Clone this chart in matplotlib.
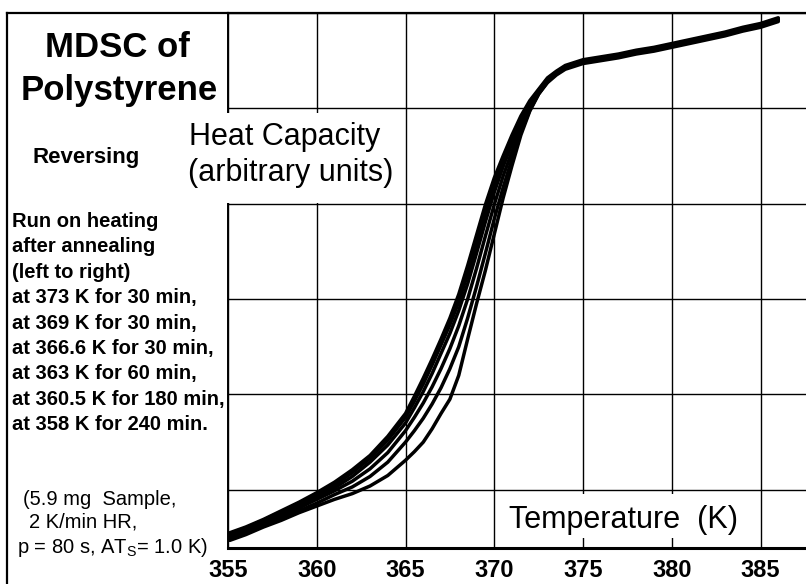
"""MDSC of polystyrene: reversing heat capacity after annealing."""
import matplotlib
matplotlib.use("Agg")
import matplotlib.pyplot as plt
from matplotlib.lines import Line2D
from matplotlib.patches import Rectangle

plt.rcParams["font.family"] = ["Liberation Sans", "DejaVu Sans"]

# temperature grid (K) shared by all six runs
temps = [355.1, 356, 357, 358, 359, 360, 361, 362, 363, 364, 365,
         365.5, 366, 366.5, 367, 367.5, 368, 368.5, 369, 369.5, 370,
         370.5, 371, 371.5, 372, 372.5, 373, 373.5, 374, 375, 376,
         377, 378, 379, 380, 381, 382, 383, 384, 385, 386]

# heat capacity, arbitrary units, one list per annealing run
cp_373 = [0.55, 0.61, 0.69, 0.78, 0.87, 0.97, 1.08, 1.21, 1.36, 1.56, 1.80,
          1.98, 2.17, 2.37, 2.58, 2.80, 3.05, 3.35, 3.67, 3.99, 4.27,
          4.50, 4.72, 4.92, 5.08, 5.20, 5.32, 5.39, 5.45, 5.51, 5.54,
          5.57, 5.61, 5.64, 5.68, 5.72, 5.76, 5.80, 5.85, 5.89, 5.95]
cp_369 = [0.54, 0.60, 0.68, 0.77, 0.86, 0.95, 1.05, 1.18, 1.33, 1.52, 1.76,
          1.93, 2.11, 2.31, 2.52, 2.73, 2.97, 3.26, 3.58, 3.90, 4.20,
          4.45, 4.68, 4.89, 5.06, 5.19, 5.31, 5.38, 5.44, 5.50, 5.53,
          5.56, 5.60, 5.63, 5.67, 5.71, 5.75, 5.79, 5.84, 5.88, 5.94]
cp_3666 = [0.52, 0.59, 0.67, 0.75, 0.84, 0.93, 1.02, 1.14, 1.29, 1.47, 1.70,
           1.86, 2.03, 2.22, 2.43, 2.64, 2.88, 3.16, 3.48, 3.81, 4.12,
           4.39, 4.63, 4.85, 5.03, 5.18, 5.29, 5.37, 5.43, 5.49, 5.52,
           5.55, 5.59, 5.62, 5.66, 5.70, 5.74, 5.78, 5.83, 5.87, 5.93]
cp_363 = [0.51, 0.57, 0.65, 0.73, 0.81, 0.90, 0.99, 1.09, 1.22, 1.39, 1.62,
          1.76, 1.91, 2.08, 2.27, 2.48, 2.72, 3.00, 3.32, 3.66, 3.99,
          4.29, 4.55, 4.80, 5.00, 5.16, 5.28, 5.37, 5.43, 5.49, 5.52,
          5.55, 5.59, 5.62, 5.66, 5.70, 5.74, 5.78, 5.83, 5.87, 5.93]
cp_3605 = [0.49, 0.55, 0.63, 0.71, 0.78, 0.86, 0.95, 1.03, 1.14, 1.29, 1.50,
           1.62, 1.75, 1.90, 2.07, 2.27, 2.50, 2.80, 3.13, 3.48, 3.84,
           4.17, 4.47, 4.75, 4.98, 5.15, 5.28, 5.36, 5.42, 5.48, 5.51,
           5.54, 5.58, 5.61, 5.65, 5.69, 5.73, 5.77, 5.82, 5.86, 5.92]
cp_358 = [0.47, 0.53, 0.61, 0.68, 0.76, 0.83, 0.90, 0.96, 1.04, 1.15, 1.31,
          1.40, 1.50, 1.64, 1.80, 1.95, 2.20, 2.58, 2.95, 3.30, 3.68,
          4.06, 4.40, 4.72, 4.97, 5.15, 5.27, 5.35, 5.41, 5.47, 5.50,
          5.53, 5.57, 5.60, 5.64, 5.68, 5.72, 5.76, 5.81, 5.85, 5.91]
runs = [cp_373, cp_369, cp_3666, cp_363, cp_3605, cp_358]

xticks = [355, 360, 365, 370, 375, 380, 385]
ygrid = [1, 2, 3, 4, 5, 6]

notes = ["Run on heating", "after annealing", "(left to right)",
         "at 373 K for 30 min,", "at 369 K for 30 min,",
         "at 366.6 K for 30 min,", "at 363 K for 60 min,",
         "at 360.5 K for 180 min,", "at 358 K for 240 min."]
params = ["(5.9 mg  Sample,", "2 K/min HR,",
          r"p = 80 s, A$\mathregular{T_S}$= 1.0 K)"]

W, H = 806, 584


def fx(px):
    return px / W


def fy(py):
    return 1 - py / H


def main():
    fig = plt.figure(figsize=(W / 100, H / 100), dpi=100)
    ax = fig.add_axes([fx(228), fy(548), fx(W - 228), (548 - 13) / H])

    for cp in runs:
        ax.plot(temps, cp, color="black", lw=2.5, solid_capstyle="round",
                solid_joinstyle="round", zorder=3)

    ax.set_xlim(355, 355 + (W - 228) / 17.75)
    ax.set_ylim(0.39, 6.0)
    ax.set_xticks(xticks)
    ax.set_xticklabels([str(t) for t in xticks], fontweight="bold")
    ax.set_yticks(ygrid)
    ax.set_yticklabels([])
    ax.tick_params(length=0, labelsize=17, pad=8)
    ax.grid(True, color="black", lw=1.0)
    ax.spines["right"].set_visible(False)
    ax.spines["top"].set_linewidth(1.6)
    ax.spines["left"].set_linewidth(1.4)
    ax.spines["bottom"].set_linewidth(2.2)

    # outer frame of the left panel
    fig.add_artist(Line2D([fx(7), fx(7)], [fy(13), 0], color="black", lw=1.6))
    fig.add_artist(Line2D([fx(7), fx(228)], [fy(13), fy(13)], color="black", lw=1.6))

    # white patches behind the axis captions
    fig.add_artist(Rectangle((fx(186), fy(203)), (400 - 186) / W, (203 - 113) / H,
                             transform=fig.transFigure, facecolor="white",
                             edgecolor="none", zorder=3))
    fig.add_artist(Rectangle((fx(500), fy(538)), (755 - 500) / W, (538 - 494) / H,
                             transform=fig.transFigure, facecolor="white",
                             edgecolor="none", zorder=3))

    fig.text(fx(189), fy(145), "Heat Capacity", fontsize=22, va="baseline", zorder=4)
    fig.text(fx(188), fy(181), "(arbitrary units)", fontsize=22, va="baseline", zorder=4)
    fig.text(fx(509), fy(528), "Temperature  (K)", fontsize=22, va="baseline", zorder=4)

    fig.text(fx(117), fy(57), "MDSC of", fontsize=25, fontweight="bold",
             ha="center", va="baseline")
    fig.text(fx(119), fy(100), "Polystyrene", fontsize=25, fontweight="bold",
             ha="center", va="baseline")
    fig.text(fx(32), fy(163), "Reversing", fontsize=16, fontweight="bold",
             va="baseline")

    for i, line in enumerate(notes):
        fig.text(fx(12), fy(227 + i * 25.4), line, fontsize=14.5,
                 fontweight="bold", va="baseline")

    for line, x0, y0 in zip(params, [23, 29, 17], [505, 528, 553]):
        fig.text(fx(x0), fy(y0), line, fontsize=14.5, va="baseline")

    fig.savefig("out.png", dpi=100)


if __name__ == "__main__":
    main()
